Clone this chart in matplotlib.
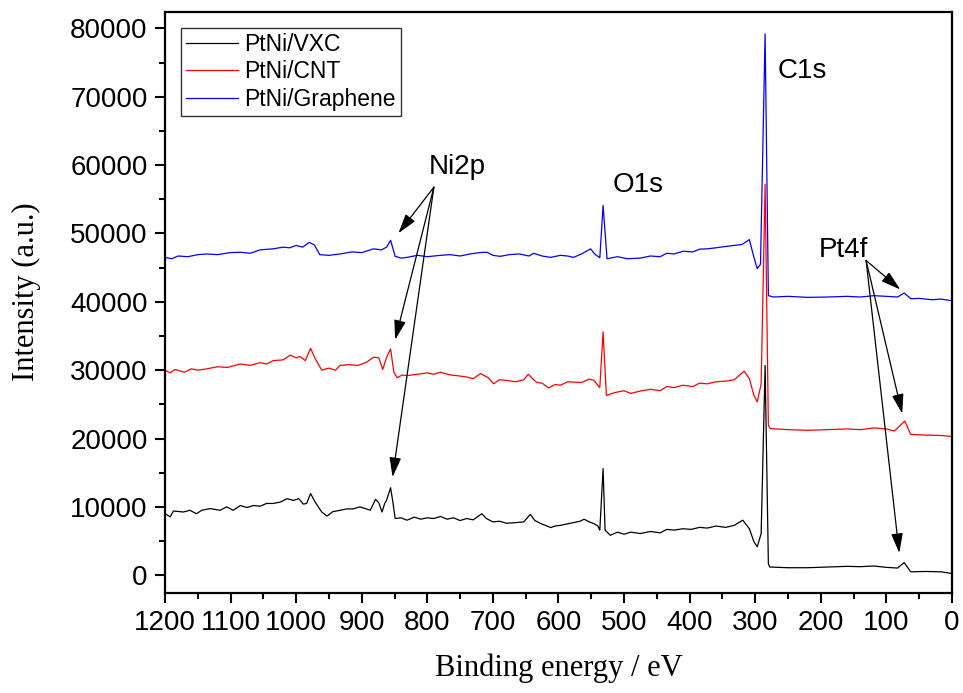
import matplotlib
matplotlib.use("Agg")
import matplotlib.pyplot as plt
from matplotlib.ticker import MultipleLocator

# Survey XPS spectra: binding energy (eV) and intensity (a.u.)
vxc_energy = [1200, 1192, 1187, 1172, 1162, 1152, 1144, 1131, 1116, 1106, 1096, 1085, 1075,
              1065, 1055, 1045, 1035, 1024, 1014, 1004, 996, 989, 984, 978, 971, 961, 953,
              944, 933, 923, 913, 903, 893, 887, 879, 874, 869, 865, 862, 856, 853, 849, 840,
              831, 820, 810, 800, 790, 780, 770, 760, 750, 740, 730, 717, 710, 700, 690, 679,
              665, 653, 643, 636, 628, 620, 612, 605, 597, 587, 577, 567, 561, 553, 546, 540,
              537, 532, 529, 521, 510, 500, 490, 475, 460, 445, 435, 424, 410, 398, 385, 373,
              360, 345, 332, 319, 309, 302, 297, 291, 285, 280, 278, 250, 220, 190, 160, 140,
              119, 100, 83, 73, 63, 40, 17, 0]
vxc_intensity = [9000, 8550, 9400, 9250, 9500, 9000, 9500, 9750, 9500, 10000, 9500, 10200,
                 9900, 10200, 10100, 10500, 10500, 10700, 11200, 10950, 11200, 10400, 10500,
                 11950, 10700, 9250, 8650, 9300, 9500, 9700, 9700, 10000, 9700, 9500, 11100,
                 10600, 9250, 10500, 11000, 12800, 11000, 8300, 8400, 8050, 8500, 8200, 8400,
                 8300, 8600, 8200, 8400, 8000, 8300, 8100, 9000, 8300, 7800, 7900, 7600, 7700,
                 7800, 8900, 8000, 7600, 7300, 6970, 7200, 7300, 7500, 7700, 7900, 8200, 7800,
                 7550, 7200, 6600, 15600, 6600, 5850, 6300, 6000, 6300, 6100, 6400, 6200, 6700,
                 6600, 6800, 6700, 7000, 6900, 7200, 7000, 7300, 8050, 6800, 4900, 4150, 6100,
                 30700, 1700, 1200, 1100, 1100, 1200, 1300, 1250, 1350, 1150, 1050, 1850, 500,
                 550, 500, 250]

cnt_energy = [1200, 1192, 1185, 1170, 1160, 1150, 1136, 1120, 1105, 1085, 1070, 1055, 1045,
              1035, 1020, 1009, 1000, 994, 986, 978, 971, 961, 950, 940, 933, 920, 905, 892,
              882, 874, 868, 862, 856, 851, 846, 838, 831, 815, 800, 790, 780, 765, 755, 740,
              730, 719, 707, 699, 690, 679, 665, 653, 646, 640, 633, 625, 615, 605, 597, 586,
              577, 565, 553, 546, 537, 532, 527, 515, 500, 490, 475, 460, 445, 435, 424, 410,
              395, 385, 373, 360, 345, 332, 317, 309, 302, 297, 291, 285, 280, 277, 250, 220,
              190, 160, 140, 119, 100, 88, 72, 63, 40, 17, 0]
cnt_intensity = [30000, 29600, 30100, 29700, 30200, 30000, 30200, 30500, 30400, 30900, 30700,
                 31100, 30900, 31400, 31500, 32200, 31800, 32000, 31400, 33200, 31700, 30000,
                 30300, 30000, 30700, 30800, 30700, 31200, 31900, 31800, 30100, 31900, 33100,
                 29700, 28900, 29300, 29200, 29400, 29600, 29400, 29700, 29300, 29200, 29000,
                 28750, 29500, 28900, 28000, 28600, 28500, 28300, 28600, 29400, 28800, 28200,
                 28100, 27400, 27900, 27800, 28300, 28250, 28200, 28700, 28500, 27450, 35600,
                 26300, 26700, 27000, 26600, 26950, 27200, 27000, 27600, 27450, 27800, 27600,
                 28100, 28000, 28300, 28400, 28600, 29870, 28750, 26300, 25350, 28000, 57200,
                 21900, 21450, 21300, 21200, 21300, 21400, 21300, 21550, 21400, 21100, 22550,
                 20600, 20500, 20450, 20300]

gr_energy = [1200, 1190, 1180, 1165, 1150, 1136, 1120, 1100, 1085, 1070, 1055, 1035, 1020,
             1010, 1000, 990, 980, 972, 964, 950, 933, 915, 900, 882, 870, 862, 856, 849, 840,
             831, 815, 800, 780, 765, 750, 735, 720, 709, 700, 689, 675, 660, 645, 638, 625,
             612, 597, 586, 577, 565, 551, 545, 537, 532, 526, 510, 495, 475, 460, 445, 435,
             424, 410, 395, 385, 373, 360, 345, 332, 320, 309, 302, 297, 292, 285, 280, 272,
             250, 220, 190, 160, 140, 119, 100, 83, 73, 63, 50, 30, 17, 0]
gr_intensity = [46500, 46300, 46700, 46600, 46900, 47000, 46900, 47200, 47250, 47100, 47600,
                47750, 48000, 47900, 48250, 48000, 48700, 48300, 46900, 46800, 47000, 47300,
                47200, 47750, 47600, 48000, 49000, 46650, 46400, 46500, 46800, 46600, 46800,
                46900, 46700, 47000, 47200, 47250, 46800, 46650, 46900, 47000, 46700, 47100,
                46700, 46500, 46800, 46700, 46500, 47000, 47750, 47000, 46450, 54100, 46300,
                46600, 46300, 46400, 46700, 46600, 47100, 47000, 47400, 47300, 47700, 47750,
                47900, 48100, 48250, 48400, 49100, 46500, 44850, 45500, 79200, 40900, 40700,
                40800, 40650, 40700, 40800, 40700, 40900, 40800, 40700, 41300, 40450, 40500,
                40300, 40400, 40150]

series_labels = ["PtNi/VXC", "PtNi/CNT", "PtNi/Graphene"]
series_colors = ["black", "red", "blue"]

x_ticks = list(range(1200, -1, -100))
y_ticks = list(range(0, 80001, 10000))

sans = ["Liberation Sans", "DejaVu Sans"]
serif = ["Liberation Serif", "DejaVu Serif"]

fig = plt.figure(figsize=(9.63, 6.93), dpi=100)
ax = fig.add_axes([0.1713, 0.1443, 0.8173, 0.8384])

for e, v, lab, col in zip([vxc_energy, cnt_energy, gr_energy],
                          [vxc_intensity, cnt_intensity, gr_intensity],
                          series_labels, series_colors):
    ax.plot(e, v, color=col, lw=0.9, label=lab)

ax.set_xlim(1200, 0)
ax.set_ylim(-2600, 82400)
ax.set_xticks(x_ticks)
ax.set_yticks(y_ticks)
ax.xaxis.set_minor_locator(MultipleLocator(50))
ax.yaxis.set_minor_locator(MultipleLocator(5000))
ax.tick_params(which="major", direction="out", length=7.5, width=1.5, labelsize=20, pad=5)
ax.tick_params(which="minor", direction="out", length=4, width=1.5)
for lbl in ax.get_xticklabels() + ax.get_yticklabels():
    lbl.set_family(sans)
for sp in ax.spines.values():
    sp.set_linewidth(1.6)

ax.set_xlabel("Binding energy / eV", fontsize=22, family=serif)
ax.set_ylabel("Intensity (a.u.)", fontsize=22, family=serif)
ax.xaxis.set_label_coords(0.5, -0.104)
ax.yaxis.set_label_coords(-0.157, 0.518)

leg = ax.legend(loc="upper left", bbox_to_anchor=(0.021, 0.972), borderaxespad=0,
                prop={"family": sans, "size": 16.5}, handlelength=2.25,
                handletextpad=0.3, labelspacing=0.2, borderpad=0.2,
                frameon=True, fancybox=False, edgecolor="black")
leg.get_frame().set_linewidth(1.0)

# Peak labels
txt = dict(fontsize=20, family=sans, ha="center", va="baseline")
ax.text(755, 58770, "Ni2p", **txt)
ax.text(478, 56040, "O1s", **txt)
ax.text(229, 72730, "C1s", **txt)
ax.text(165, 46490, "Pt4f", **txt)

arrow = dict(arrowstyle="-|>,head_length=0.6,head_width=0.18", color="black",
             lw=0.9, shrinkA=0, shrinkB=0, mutation_scale=20)
ni_origin = (790, 56770)
for tip in [(844, 50040), (849, 34460), (853, 14370)]:
    ax.annotate("", xy=tip, xytext=ni_origin, arrowprops=arrow)
pt_origin = (131, 46050)
for tip in [(79, 41810), (76, 23640), (80.5, 3260)]:
    ax.annotate("", xy=tip, xytext=pt_origin, arrowprops=arrow)

fig.savefig("out.png", dpi=100)
